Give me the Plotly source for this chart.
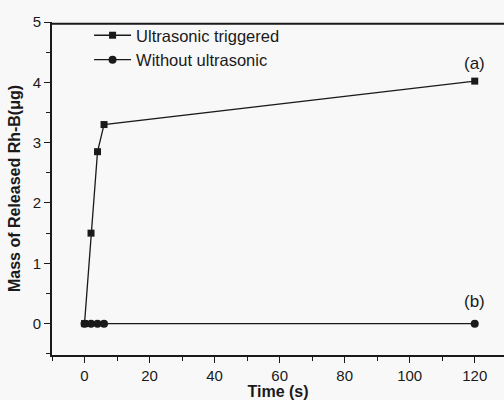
import plotly.graph_objects as go

time_s = [0, 2, 4, 6, 120]
ultrasonic = [0, 1.5, 2.85, 3.3, 4.02]
without = [0, 0, 0, 0, 0]
x_ticks = [0, 20, 40, 60, 80, 100, 120]
y_ticks = [0, 1, 2, 3, 4, 5]

FONT = "Liberation Sans, Arial, sans-serif"
INK = "#1a1a1a"
X_RANGE = [-10, 129]
Y_RANGE = [-0.52, 5.0]

fig = go.Figure()
fig.add_trace(go.Scatter(
    x=time_s, y=ultrasonic, mode="lines+markers", name="Ultrasonic triggered",
    line=dict(color=INK, width=1.3),
    marker=dict(symbol="square", size=7, color=INK)))
fig.add_trace(go.Scatter(
    x=time_s, y=without, mode="lines+markers", name="Without ultrasonic",
    line=dict(color=INK, width=1.3),
    marker=dict(symbol="circle", size=8, color=INK)))

fig.add_annotation(x=120, y=ultrasonic[-1], text="(a)", showarrow=False,
                   yshift=18, font=dict(size=17, color=INK, family=FONT))
fig.add_annotation(x=120, y=without[-1], text="(b)", showarrow=False,
                   yshift=22, font=dict(size=17, color=INK, family=FONT))

# top frame edge
fig.add_shape(type="line", xref="paper", yref="paper", x0=0, x1=1, y0=0.995, y1=0.995,
              line=dict(color=INK, width=2), layer="above")

fig.update_layout(
    width=504, height=400,
    margin=dict(l=52, r=0, t=22, b=45),
    paper_bgcolor="#f8f8f8", plot_bgcolor="#f8f8f8",
    font=dict(family=FONT, size=15, color=INK),
    showlegend=True,
    legend=dict(x=0.082, y=1.012, xanchor="left", yanchor="top",
                bgcolor="rgba(0,0,0,0)", font=dict(size=16.5, family=FONT, color=INK),
                tracegroupgap=0, itemwidth=37),
    xaxis=dict(range=X_RANGE, tickvals=x_ticks, showgrid=False, zeroline=False,
               showline=True, linecolor=INK, linewidth=1.6,
               ticks="outside", ticklen=6, tickwidth=1.3, tickcolor=INK,
               minor=dict(dtick=10, tick0=0, ticks="outside", ticklen=4, tickwidth=1.3, tickcolor=INK),
               tickfont=dict(size=15, family=FONT),
               title=dict(text="<b>Time (s)</b>", font=dict(size=16, family=FONT), standoff=0)),
    yaxis=dict(range=Y_RANGE, tickvals=y_ticks, showgrid=False, zeroline=False,
               showline=True, linecolor=INK, linewidth=1.6,
               ticks="outside", ticklen=6, tickwidth=1.3, tickcolor=INK,
               minor=dict(dtick=0.5, tick0=0, ticks="outside", ticklen=4, tickwidth=1.3, tickcolor=INK),
               tickfont=dict(size=15, family=FONT),
               title=dict(text="<b>Mass of Released Rh-B(μg)</b>", font=dict(size=16, family=FONT), standoff=8)),
)

fig.write_html("out.html", config={"displayModeBar": False},
               post_script="document.body.style.margin='0';")
